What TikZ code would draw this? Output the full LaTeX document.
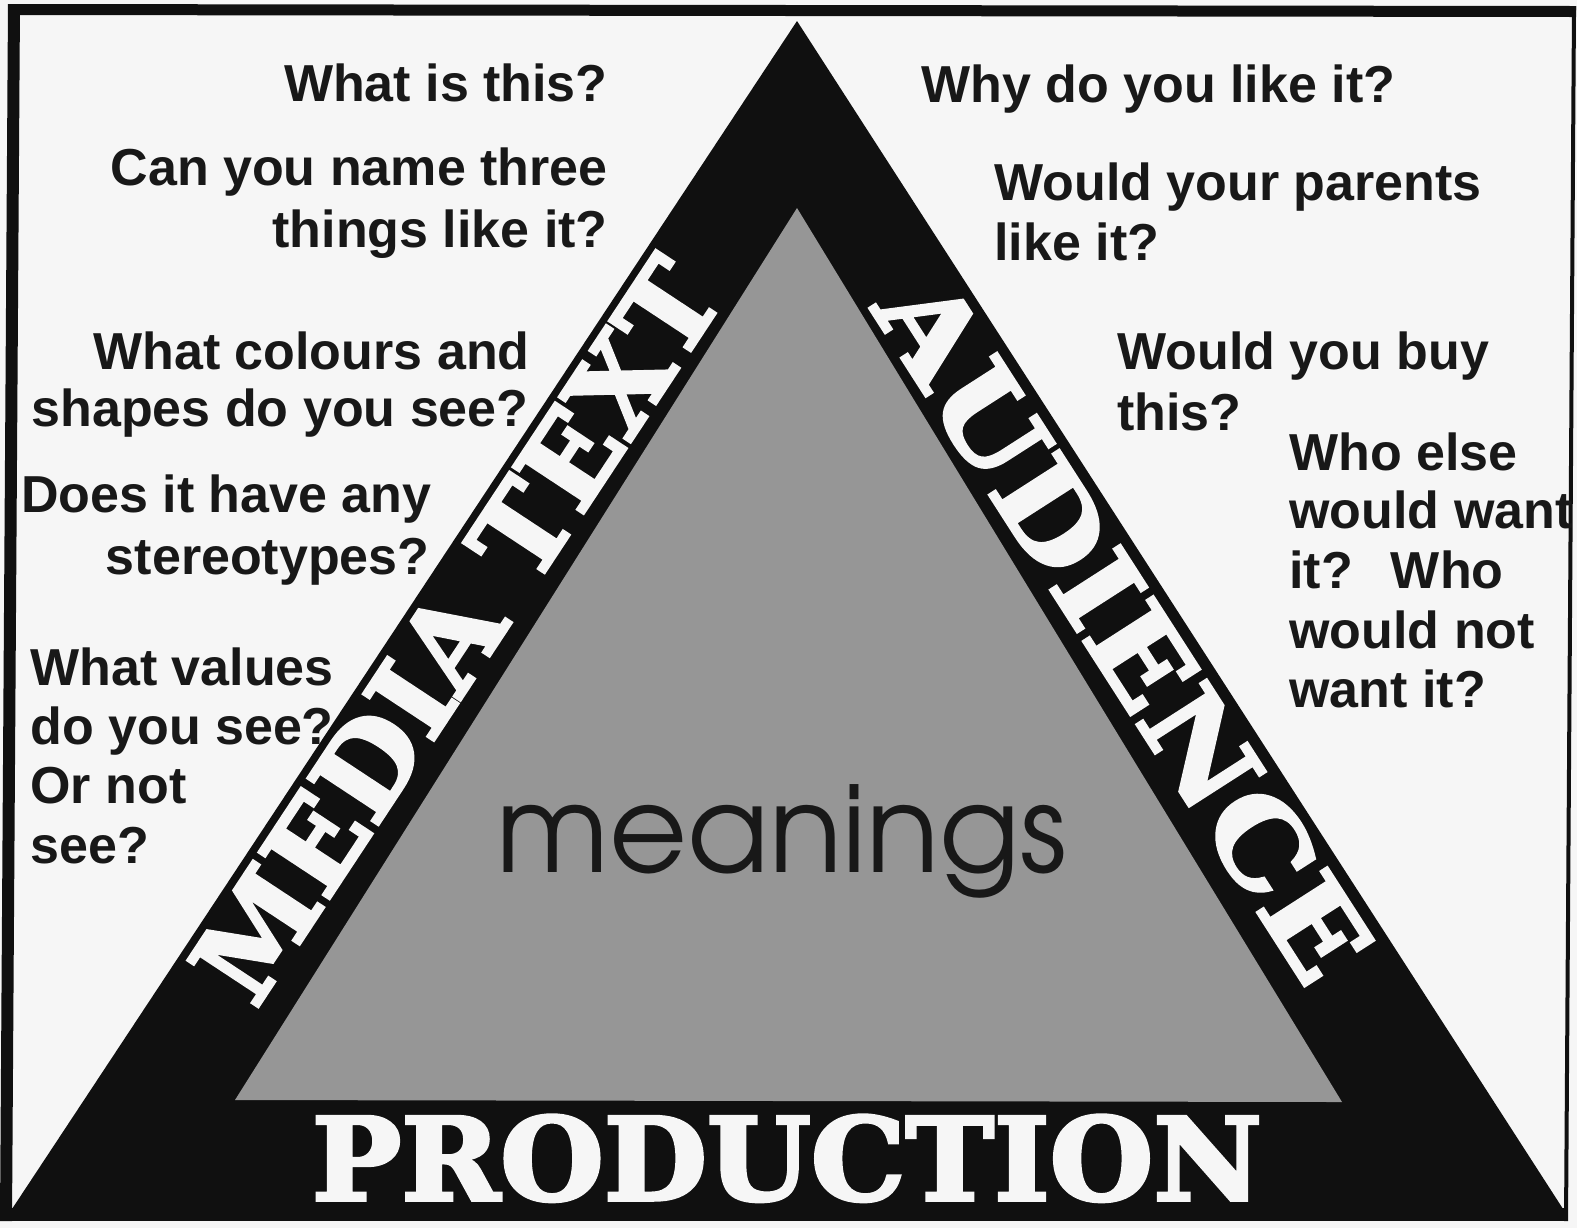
\documentclass[tikz,border=0pt]{standalone}
\usepackage{fontspec}
\setmainfont{Liberation Sans}
\newfontfamily\qfont{Liberation Sans}
\newfontfamily\bandfont{DejaVu Serif}[BoldFeatures={FakeBold=3}]
\newfontfamily\meanfont{TeX Gyre Adventor}
\definecolor{paper}{RGB}{246,246,246}
\definecolor{ink}{RGB}{24,24,24}
\definecolor{bandblack}{RGB}{16,16,16}
\definecolor{midgray}{RGB}{150,150,150}
\begin{document}
\begin{tikzpicture}[x=0.5pt,y=-0.5pt,
  qtext/.style={font=\qfont\bfseries\fontsize{26pt}{30pt}\selectfont, text=ink, inner sep=0pt},
  ql/.style={qtext, anchor=base west},
  qr/.style={qtext, anchor=base east},
  bandtext/.style={text=paper, inner sep=0pt, font=\bandfont\bfseries}]
\useasboundingbox (0,0) rectangle (1577,1228);
\fill[paper] (0,0) rectangle (1577,1228);
% frame
\fill[bandblack] (8,4) -- (1576,6) -- (1576,17) -- (8,15) -- cycle;
\fill[bandblack] (8,4) -- (20,4) -- (12,1221) -- (0,1221) -- cycle;
\fill[bandblack] (1572,6) -- (1576,6) -- (1568,1221) -- (1564,1221) -- cycle;
\fill[bandblack] (0,1208) -- (1568,1208) -- (1568,1221) -- (0,1221) -- cycle;
% triangles
\fill[bandblack] (797,21) -- (10,1212) -- (1565,1212) -- cycle;
\fill[midgray] (797,208) -- (235,1100) -- (1342,1102) -- cycle;
% band texts
\node[bandtext, anchor=base] (prod) at (787,1200) {\resizebox{475pt}{42.5pt}{PRODUCTION}};
\node[bandtext, rotate=56.6] (media) at (456,630) {\resizebox{428pt}{42pt}{MEDIA TEXT}};
\node[bandtext, rotate=-57.3] (aud) at (1124,628) {\resizebox{405pt}{42pt}{AUDIENCE}};
% centre
\node[inner sep=0pt, anchor=base, text=ink] (mean) at (782,872) {\resizebox{285pt}{!}{\meanfont meanings}};
% left questions
\node[qr] (q1) at (608,101) {What is this?};
\node[qr] (q2) at (608,185) {Can you name three};
\node[qr] (q3) at (608,247) {things like it?};
\node[qr] (q4) at (530,369) {What colours and};
\node[qr] (q5) at (529,426) {shapes do you see?};
\node[qr] (q6) at (432,512) {Does it have any};
\node[qr] (q7) at (430,574) {stereotypes?};
\node[ql] (q8) at (30,685) {What values};
\node[ql] (q9) at (30,744) {do you see?};
\node[ql] (q10) at (30,803) {Or not};
\node[ql] (q11) at (30,863) {see?};
% right questions
\node[ql] (q12) at (921,102) {Why do you like it?};
\node[ql] (q13) at (994,200) {Would your parents};
\node[ql] (q14) at (994,260) {like it?};
\node[ql] (q15) at (1117,369) {Would you buy};
\node[ql] (q16) at (1117,430) {this?};
\node[ql] (q17) at (1289,470) {Who else};
\node[ql] (q18) at (1289,528) {would want};
\node[ql] (q19) at (1289,588) {it?\hspace{19pt}Who};
\node[ql] (q20) at (1289,648) {would not};
\node[ql] (q21) at (1289,707) {want it?};
\end{tikzpicture}
\end{document}
